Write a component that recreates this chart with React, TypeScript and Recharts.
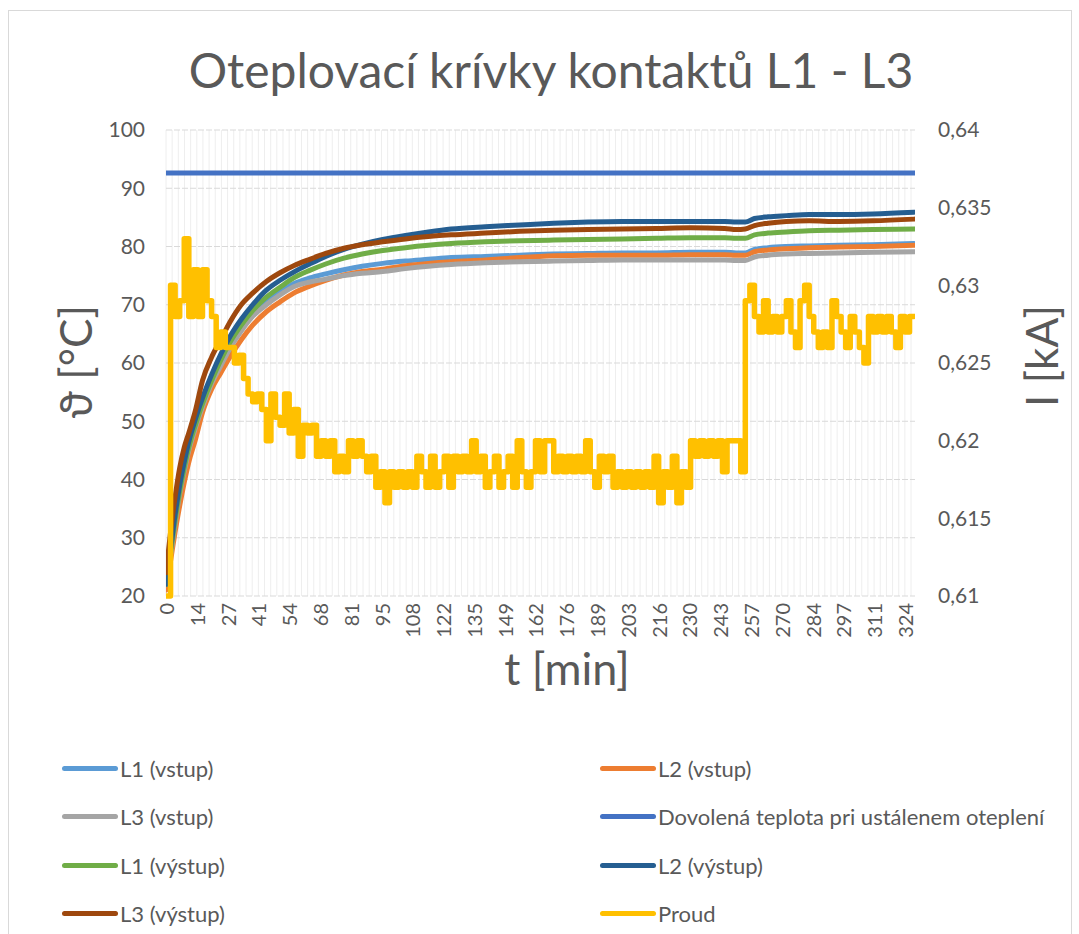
import { LineChart, Line, XAxis, YAxis, CartesianGrid } from "recharts";

// time axis of the temperature readings [min]
const tempTimes = [0, 2, 4, 6, 8, 10, 13, 16, 20, 24, 28, 33, 38, 44, 50, 56, 63, 70, 78, 86, 95, 105, 115, 125, 140, 155, 170, 185, 200, 215, 230, 245, 250, 254, 258, 264, 272, 282, 295, 310, 328];

const l1In = [22, 27, 32.5, 37.5, 41.5, 45, 49, 52.5, 56.5, 60, 63, 66, 68.5, 70.5, 72.2, 73.6, 74.6, 75.3, 76, 76.6, 77.1, 77.5, 77.8, 78.1, 78.3, 78.5, 78.7, 78.8, 78.9, 78.9, 79, 79, 78.9, 78.9, 79.5, 79.8, 80, 80.1, 80.2, 80.3, 80.5];
const l2In = [21, 26, 31, 35.5, 39.5, 43, 47, 51.5, 55.5, 58.3, 61, 64, 66.5, 68.8, 70.5, 72, 73.2, 74.2, 75.1, 75.7, 76.1, 76.7, 77.1, 77.4, 77.7, 78.1, 78.4, 78.5, 78.5, 78.5, 78.6, 78.6, 78.5, 78.5, 79.1, 79.4, 79.6, 79.8, 79.9, 80, 80.2];
const l3In = [22, 27, 32.5, 37.5, 41.5, 45, 49, 52.5, 56.5, 59.5, 62.5, 65.5, 68, 70, 71.7, 73.1, 73.9, 74.4, 75, 75.4, 75.7, 76.2, 76.6, 76.9, 77.2, 77.4, 77.5, 77.6, 77.7, 77.7, 77.7, 77.7, 77.6, 77.6, 78.2, 78.5, 78.7, 78.8, 78.9, 79, 79.1];
const l1Out = [22, 27.5, 33, 38, 42, 45.5, 49.5, 53, 57, 60.5, 63.5, 66.5, 69, 71.3, 73, 74.6, 75.9, 77, 78, 78.7, 79.3, 79.8, 80.2, 80.5, 80.8, 81, 81.1, 81.2, 81.3, 81.4, 81.5, 81.5, 81.4, 81.4, 82, 82.3, 82.5, 82.7, 82.8, 82.9, 83];
const l2Out = [22, 28, 34, 39, 43, 46.5, 50.5, 54, 58, 61.5, 64.5, 67.5, 70, 72.5, 74.2, 75.6, 77, 78.3, 79.5, 80.4, 81.2, 81.9, 82.5, 83, 83.4, 83.7, 84, 84.2, 84.3, 84.3, 84.3, 84.3, 84.2, 84.2, 84.8, 85.1, 85.3, 85.5, 85.5, 85.6, 85.9];
const l3Out = [24, 31, 37, 42, 45.5, 48, 52, 57, 61, 64, 67, 70, 72, 74, 75.5, 76.7, 77.8, 78.8, 79.7, 80.3, 80.8, 81.3, 81.7, 82, 82.3, 82.6, 82.8, 82.9, 83, 83.1, 83.2, 83.1, 82.9, 83, 83.6, 84, 84.3, 84.4, 84.3, 84.4, 84.7];

// permitted temperature at steady state [°C]
const limitTimes = [0, 328.4];
const limitValues = [92.6, 92.6];

// current [kA], one reading every 2 min
const currentStep = 2;
const current = [
  0.61, 0.63, 0.628, 0.629, 0.633, 0.628, 0.631, 0.628, 0.631, 0.629,
  0.628, 0.626, 0.627, 0.626, 0.626, 0.625, 0.6255, 0.624, 0.623, 0.6225,
  0.623, 0.622, 0.62, 0.623, 0.6215, 0.621, 0.623, 0.6205, 0.622, 0.619,
  0.621, 0.6205, 0.621, 0.619, 0.62, 0.619, 0.62, 0.618, 0.619, 0.618,
  0.62, 0.619, 0.62, 0.619, 0.618, 0.619, 0.617, 0.618, 0.616, 0.618,
  0.617, 0.618, 0.617, 0.618, 0.617, 0.619, 0.618, 0.617, 0.619, 0.617,
  0.618, 0.619, 0.617, 0.619, 0.618, 0.619, 0.618, 0.62, 0.618, 0.619,
  0.617, 0.618, 0.619, 0.617, 0.618, 0.619, 0.617, 0.62, 0.618, 0.617,
  0.618, 0.62, 0.618, 0.62, 0.62, 0.618, 0.619, 0.618, 0.619, 0.618,
  0.619, 0.618, 0.62, 0.618, 0.617, 0.619, 0.618, 0.619, 0.617, 0.618,
  0.617, 0.618, 0.617, 0.618, 0.617, 0.618, 0.617, 0.619, 0.616, 0.618,
  0.617, 0.619, 0.616, 0.618, 0.617, 0.62, 0.619, 0.62, 0.619, 0.62,
  0.619, 0.62, 0.618, 0.62, 0.62, 0.62, 0.618, 0.629, 0.63, 0.628,
  0.627, 0.629, 0.627, 0.628, 0.627, 0.628, 0.629, 0.627, 0.626, 0.629,
  0.63, 0.628, 0.627, 0.626, 0.627, 0.626, 0.629, 0.628, 0.627, 0.626,
  0.628, 0.627, 0.626, 0.625, 0.628, 0.627, 0.628, 0.627, 0.628, 0.627,
  0.626, 0.628, 0.627, 0.628, 0.628,
];

const xTicks = [0, 13.5, 27, 40.5, 54, 67.5, 81, 94.5, 108, 121.5, 135, 148.5, 162, 175.5, 189, 202.5, 216, 229.5, 243, 256.5, 270, 283.5, 297, 310.5, 324];
const leftTicks = [20, 30, 40, 50, 60, 70, 80, 90, 100];
const rightTicks = [0.61, 0.615, 0.62, 0.625, 0.63, 0.635, 0.64];

const series = [
  { name: "L1 (vstup)", color: "#5B9BD5", values: l1In },
  { name: "L2 (vstup)", color: "#ED7D31", values: l2In },
  { name: "L3 (vstup)", color: "#A5A5A5", values: l3In },
  { name: "Dovolená teplota pri ustálenem oteplení", color: "#4472C4", values: null },
  { name: "L1 (výstup)", color: "#70AD47", values: l1Out },
  { name: "L2 (výstup)", color: "#255E91", values: l2Out },
  { name: "L3 (výstup)", color: "#9E480E", values: l3Out },
  { name: "Proud", color: "#FFC000", values: null },
];

const FONT = "Lato, 'Open Sans', sans-serif";
const GREY = "#595959";

const toPoints = (times: number[], vals: number[]) => times.map((t, i) => ({ t, v: vals[i] }));
const currentData = current.map((v, i) => ({ t: i * currentStep, v }));
const limitData = toPoints(limitTimes, limitValues);
const vGrid = Array.from({ length: 122 }, (_, i) => 166 + i * 2.7 * 2.2805);

const XTick = ({ x, y, payload }: any) => (
  <text
    x={x}
    y={y}
    transform={`rotate(-90 ${x} ${y})`}
    textAnchor="end"
    dominantBaseline="central"
    fill={GREY}
    fontSize={20}
    fontFamily={FONT}
  >
    {Math.round(payload.value)}
  </text>
);

export default function App() {
  const legendRows = [0, 1, 2, 3];
  return (
    <div style={{ position: "absolute", left: 0, top: 0, width: 1079, height: 934, background: "#fff", overflow: "hidden", fontFamily: FONT }}>
      <div style={{ position: "absolute", left: 8, top: 10, width: 1062, height: 940, border: "1px solid #d9d9d9" }} />
      <div style={{ position: "absolute", left: 551, top: 39, transform: "translateX(-50%)", whiteSpace: "nowrap", fontSize: 48, color: GREY, lineHeight: "62px" }}>
        Oteplovací krívky kontaktů L1 - L3
      </div>
      <div style={{ position: "absolute", left: 0, top: 0 }}>
        <LineChart width={1079} height={700} margin={{ top: 130, right: 0, left: 0, bottom: 44 }}>
          <CartesianGrid horizontal={false} verticalPoints={vGrid} stroke="#eeeeee" strokeWidth={1} yAxisId="left" />
          <CartesianGrid vertical={false} stroke="#d9d9d9" strokeDasharray="6 2" strokeWidth={1.2} yAxisId="left" />
          <XAxis
            dataKey="t"
            type="number"
            domain={[0, 328.4]}
            ticks={xTicks}
            interval={0}
            tick={<XTick />}
            tickSize={0}
            tickMargin={7}
            axisLine={false}
            height={60}
            allowDataOverflow
          />
          <YAxis
            yAxisId="left"
            domain={[20, 100]}
            ticks={leftTicks}
            width={166}
            axisLine={false}
            tickLine={false}
            tickSize={0}
            tickMargin={21}
            tick={{ fill: GREY, fontSize: 21, fontFamily: FONT }}
          />
          <YAxis
            yAxisId="right"
            orientation="right"
            domain={[0.61, 0.64]}
            ticks={rightTicks}
            width={164}
            axisLine={false}
            tickLine={false}
            tickSize={0}
            tickMargin={23}
            tickFormatter={(v: number) => String(v).replace(".", ",")}
            tick={{ fill: GREY, fontSize: 21, fontFamily: FONT }}
          />
          {series.map((s) => {
            if (s.name === "Proud") {
              return (
                <Line key={s.name} yAxisId="right" data={currentData} dataKey="v" type="stepAfter" stroke={s.color} strokeWidth={5.5} strokeLinecap="round" strokeLinejoin="round" dot={false} isAnimationActive={false} />
              );
            }
            const data = s.values ? toPoints(tempTimes, s.values) : limitData;
            return (
              <Line key={s.name} yAxisId="left" data={data} dataKey="v" type="monotone" stroke={s.color} strokeWidth={5} strokeLinecap="round" dot={false} isAnimationActive={false} />
            );
          })}
        </LineChart>
      </div>
      <div style={{ position: "absolute", left: 75, top: 362, transform: "translate(-50%, -50%) rotate(-90deg)", fontSize: 44, color: GREY, whiteSpace: "nowrap" }}>
        ϑ [°C]
      </div>
      <div style={{ position: "absolute", left: 1041, top: 356, transform: "translate(-50%, -50%) rotate(-90deg)", fontSize: 44, color: GREY, whiteSpace: "nowrap" }}>
        I [kA]
      </div>
      <div style={{ position: "absolute", left: 567, top: 668, transform: "translate(-50%, -50%)", fontSize: 45, color: GREY, whiteSpace: "nowrap" }}>
        t [min]
      </div>
      {legendRows.map((r) =>
        [0, 1].map((c) => {
          const s = series[r * 2 + c];
          const left = c === 0 ? 62 : 600;
          const top = 768 + r * 48.5;
          return (
            <div key={s.name} style={{ position: "absolute", left, top: top - 15, height: 30, display: "flex", alignItems: "center", whiteSpace: "nowrap" }}>
              <div style={{ width: 56, height: 5, borderRadius: 3, background: s.color, marginRight: 2 }} />
              <span style={{ fontSize: 22, color: GREY }}>{s.name}</span>
            </div>
          );
        })
      )}
    </div>
  );
}
